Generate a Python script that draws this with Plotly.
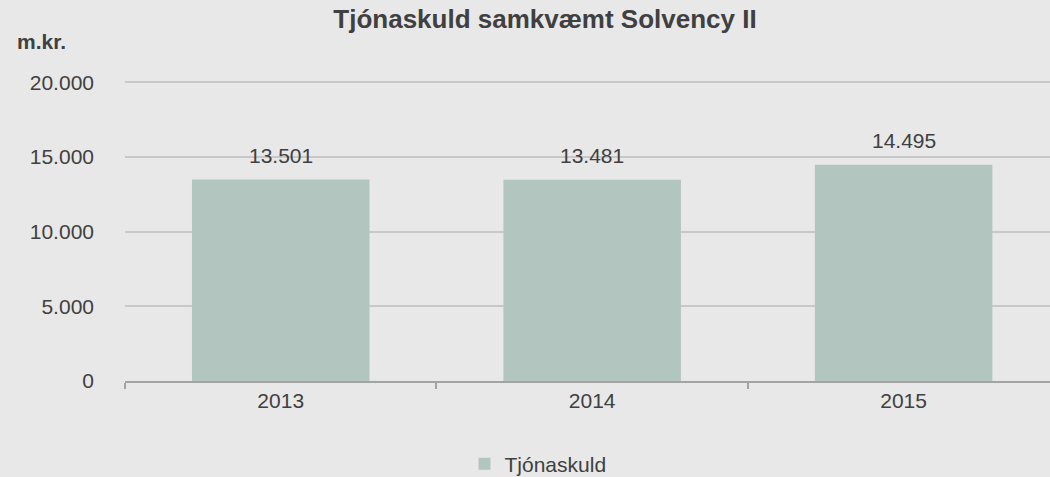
import plotly.graph_objects as go

years = ["2013", "2014", "2015"]
tjonaskuld = [13501, 13481, 14495]
y_ticks = [0, 5000, 10000, 15000, 20000]
y_tick_labels = ["0", "5.000", "10.000", "15.000", "20.000"]

fig = go.Figure()

fig.add_trace(go.Bar(
    x=years,
    y=tjonaskuld,
    name="Tjónaskuld",
    marker_color="#b3c5bf",
    marker_line_width=0,
))

# data labels above the bars (x given as category index)
labels = [
    dict(x=i, y=val, text=f"{val:,}".replace(",", "."), showarrow=False,
         yanchor="middle", yshift=24, font=dict(size=21, color="#404040"))
    for i, val in enumerate(tjonaskuld)
]

labels.append(dict(
    text="<b>m.kr.</b>", xref="paper", yref="paper",
    x=(15 - 125) / 925, y=(381 - 41) / 300, xanchor="left", yanchor="middle",
    showarrow=False, font=dict(size=21, color="#404040"),
))

fig.update_layout(
    width=1050,
    height=477,
    paper_bgcolor="#e8e8e8",
    plot_bgcolor="#e8e8e8",
    font=dict(family="Liberation Sans, Arial, sans-serif", size=21, color="#404040"),
    title=dict(
        text="<b>Tjónaskuld samkvæmt Solvency II</b>",
        x=545 / 1050, xanchor="center", xref="container",
        y=1 - 19 / 477, yanchor="middle", yref="container",
        font=dict(size=26, color="#404040"),
    ),
    margin=dict(l=125, r=0, t=81, b=96),
    bargap=0.43,
    showlegend=True,
    legend=dict(
        orientation="h", x=0.5 + 13 / 1050, xanchor="center", xref="container",
        y=1 - 464 / 477, yanchor="middle", yref="container",
        font=dict(size=21, color="#404040"),
    ),
    annotations=labels,
)

fig.update_xaxes(
    type="category", categoryorder="array", categoryarray=years,
    range=[-0.5, 2.47], automargin=False,
    showline=True, linecolor="#a3a3a3", linewidth=1.5,
    ticks="outside", tickson="boundaries", ticklen=6, tickcolor="#a3a3a3", tickwidth=1.5,
    showgrid=False,
)
fig.update_yaxes(
    range=[0, 20100], tickvals=y_ticks, ticktext=y_tick_labels, automargin=False,
    showgrid=True, gridcolor="#c8c8c8", gridwidth=1.5,
    zeroline=False, showline=False, ticks="", ticklabelstandoff=30,
)

fig.write_html("out.html", config={"displayModeBar": False},
               post_script="document.body.style.margin='0';")
